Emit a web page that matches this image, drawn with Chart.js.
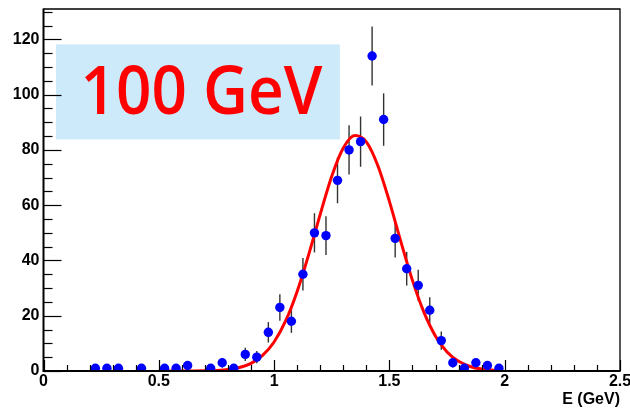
<!DOCTYPE html>
<html>
<head>
<meta charset="utf-8">
<script src="https://cdn.jsdelivr.net/npm/chart.js@4.4.1/dist/chart.umd.min.js"></script>
<style>
  html, body { margin: 0; padding: 0; background: #ffffff; }
  canvas { display: block; }
</style>
</head>
<body>
<canvas id="chart" width="630" height="412"></canvas>
<script>
// Histogram of reconstructed energy: bin centres (GeV), entries and their errors
const binCenters = [0.225, 0.275, 0.325, 0.425, 0.525, 0.575, 0.625, 0.725, 0.775, 0.825,
                    0.875, 0.925, 0.975, 1.025, 1.075, 1.125, 1.175, 1.225, 1.275, 1.325,
                    1.375, 1.425, 1.475, 1.525, 1.575, 1.625, 1.675, 1.725, 1.775, 1.825,
                    1.875, 1.925, 1.975];
const counts = [1, 1, 1, 1, 1, 1, 2, 1, 3, 1,
                6, 5, 14, 23, 18, 35, 50, 49, 69, 80,
                83, 114, 91, 48, 37, 31, 22, 11, 3, 1,
                3, 2, 1];
const countErrors = [1, 1, 1, 1, 1, 1, 1.4, 1, 1.7, 1,
                     2.4, 2.2, 3.7, 4.8, 4.2, 5.9, 7.1, 7.0, 8.3, 8.9,
                     9.1, 10.7, 9.5, 6.9, 6.1, 5.6, 4.7, 3.3, 1.7, 1,
                     1.7, 1.4, 1];

// Fitted peak shape, sampled along the energy axis
const fitEnergy = [0.50, 0.55, 0.60, 0.65, 0.70, 0.75, 0.80, 0.85, 0.90, 0.95,
                   1.00, 1.05, 1.10, 1.15, 1.20, 1.25, 1.30, 1.35, 1.40, 1.45,
                   1.50, 1.55, 1.60, 1.65, 1.70, 1.75, 1.80, 1.85, 1.90, 1.95, 1.975];
const fitValues = [0, 0, 0.01, 0.02, 0.07, 0.2, 0.53, 1.26, 2.78, 5.63,
                   10.5, 18.1, 28.8, 42.1, 56.7, 70.5, 80.7, 85.2, 82.9, 74.3,
                   61.4, 46.7, 32.8, 21.2, 12.6, 6.9, 3.5, 1.64, 0.7, 0.28, 0.17];

// Axis ticks and labels
const xTickValues = [0, 0.5, 1, 1.5, 2, 2.5];
const yTickValues = [0, 20, 40, 60, 80, 100, 120];
const xMin = 0, xMax = 2.5, yMin = 0, yMax = 131;
const xAxisTitle = 'E (GeV)';
const beamLabel = '100 GeV';
// Label box extent in axis units
const labelBoxX = [0.054, 1.285];
const labelBoxY = [83.8, 118.2];

const axisFont = { family: '"Liberation Sans", Arial, Helvetica, sans-serif', size: 16, weight: 'bold' };

const pointData = binCenters.map((x, i) => ({ x: x, y: counts[i] }));
const fitData = fitEnergy.map((x, i) => ({ x: x, y: fitValues[i] }));

// Label box + error bars, drawn beneath the markers
const underlayPlugin = {
  id: 'underlay',
  beforeDatasetsDraw(chart) {
    const ctx = chart.ctx, xs = chart.scales.x, ys = chart.scales.y;
    ctx.save();
    // light blue label box
    const bx0 = xs.getPixelForValue(labelBoxX[0]), bx1 = xs.getPixelForValue(labelBoxX[1]);
    const by0 = ys.getPixelForValue(labelBoxY[1]), by1 = ys.getPixelForValue(labelBoxY[0]);
    ctx.fillStyle = '#cceafa';
    ctx.fillRect(bx0, by0, bx1 - bx0, by1 - by0);
    // big red label
    ctx.fillStyle = '#ff0000';
    ctx.font = '600 67px "Open Sans", "Noto Sans", sans-serif';
    ctx.textBaseline = 'alphabetic';
    ctx.textAlign = 'left';
    const w = ctx.measureText(beamLabel).width;
    const target = 242;
    ctx.translate(bx0 + 24.5, by0 + 70);
    ctx.scale(target / w, 1);
    ctx.fillText(beamLabel, 0, 0);
    ctx.restore();

    // vertical error bars
    ctx.save();
    ctx.strokeStyle = '#333333';
    ctx.lineWidth = 1.4;
    binCenters.forEach((x, i) => {
      const px = xs.getPixelForValue(x);
      const top = ys.getPixelForValue(counts[i] + countErrors[i]);
      const bot = ys.getPixelForValue(Math.max(0, counts[i] - countErrors[i]));
      ctx.beginPath();
      ctx.moveTo(px, top);
      ctx.lineTo(px, bot);
      ctx.stroke();
    });
    ctx.restore();
  }
};

// Frame, inward tick marks and axis title
const framePlugin = {
  id: 'frame',
  afterDraw(chart) {
    const ctx = chart.ctx, xs = chart.scales.x, ys = chart.scales.y, a = chart.chartArea;
    ctx.save();
    ctx.strokeStyle = '#000000';
    // thin frame on top and right
    ctx.lineWidth = 1.3;
    ctx.beginPath();
    ctx.moveTo(a.left, a.top);
    ctx.lineTo(a.right, a.top);
    ctx.lineTo(a.right, a.bottom);
    ctx.stroke();
    // axes
    ctx.lineWidth = 2;
    ctx.beginPath();
    ctx.moveTo(a.left, a.top - 0.6);
    ctx.lineTo(a.left, a.bottom);
    ctx.lineTo(a.right + 0.6, a.bottom);
    ctx.stroke();

    // x ticks: major every 0.5, minor every 0.1
    ctx.lineWidth = 1.2;
    ctx.strokeStyle = '#000000';
    for (let i = 0; i <= 25; i++) {
      const v = i / 10;
      const px = Math.round(xs.getPixelForValue(v)) + 0.5;
      const len = (i % 5 === 0) ? 11 : 6;
      ctx.beginPath();
      ctx.moveTo(px, a.bottom);
      ctx.lineTo(px, a.bottom - len);
      ctx.stroke();
    }
    // y ticks: major every 20, minor every 5
    for (let v = 0; v <= yMax; v += 5) {
      const py = Math.round(ys.getPixelForValue(v)) + 0.5;
      const len = (v % 20 === 0) ? 18 : 9;
      ctx.beginPath();
      ctx.moveTo(a.left, py);
      ctx.lineTo(a.left + len, py);
      ctx.stroke();
    }

    // axis title, right-aligned under the axis
    ctx.fillStyle = '#000000';
    ctx.font = 'bold 16px "Liberation Sans", Arial, Helvetica, sans-serif';
    ctx.textAlign = 'right';
    ctx.textBaseline = 'alphabetic';
    ctx.fillText(xAxisTitle, a.right, 404);
    ctx.restore();
  }
};

new Chart(document.getElementById('chart'), {
  type: 'scatter',
  data: {
    datasets: [
      {
        type: 'line',
        data: fitData,
        borderColor: '#ff0000',
        borderWidth: 3,
        pointRadius: 0,
        fill: false,
        cubicInterpolationMode: 'monotone',
        order: 1
      },
      {
        type: 'scatter',
        data: pointData,
        backgroundColor: '#0000ff',
        borderWidth: 0,
        pointRadius: 4.7,
        pointHoverRadius: 4.7,
        order: 0
      }
    ]
  },
  options: {
    responsive: false,
    animation: false,
    devicePixelRatio: 1,
    events: [],
    layout: { padding: { top: 9, right: 10, bottom: 0, left: 0 } },
    plugins: { legend: { display: false }, tooltip: { enabled: false } },
    scales: {
      x: {
        type: 'linear',
        min: xMin,
        max: xMax,
        afterBuildTicks: s => { s.ticks = xTickValues.map(v => ({ value: v })); },
        afterFit: s => { s.height = 41; s.paddingLeft = 0; s.paddingRight = 0; },
        grid: { display: false, drawTicks: false },
        border: { display: false },
        ticks: {
          color: '#000000',
          font: axisFont,
          padding: 1,
          maxRotation: 0,
          autoSkip: false,
          callback: v => String(v)
        }
      },
      y: {
        type: 'linear',
        min: yMin,
        max: yMax,
        afterBuildTicks: s => { s.ticks = yTickValues.map(v => ({ value: v })); },
        afterFit: s => { s.width = 43.5; s.paddingTop = 0; s.paddingBottom = 0; },
        grid: { display: false, drawTicks: false },
        border: { display: false },
        ticks: {
          color: '#000000',
          font: axisFont,
          padding: 4,
          autoSkip: false,
          callback: v => String(v)
        }
      }
    }
  },
  plugins: [underlayPlugin, framePlugin]
});
</script>
</body>
</html>
